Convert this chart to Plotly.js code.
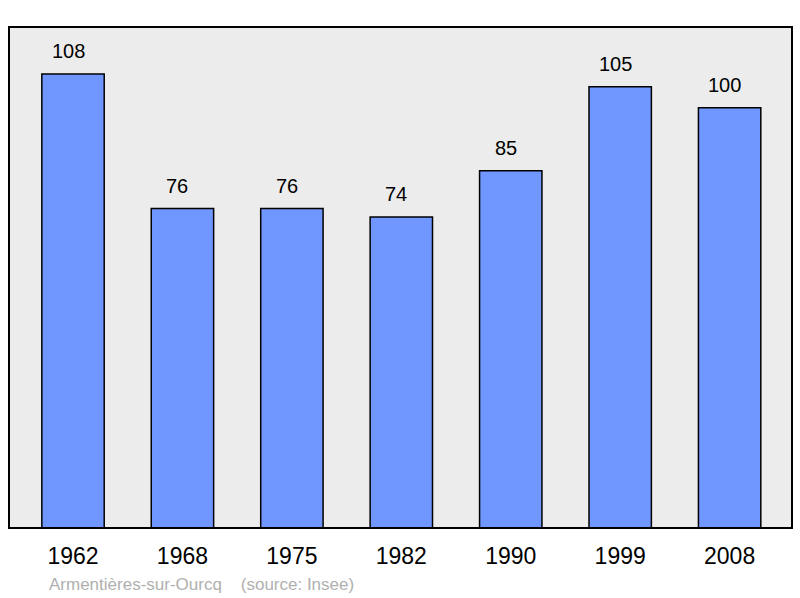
<!DOCTYPE html>
<html>
<head>
<meta charset="utf-8">
<script src="https://cdn.plot.ly/plotly-3.0.1.min.js"></script>
<style>
  body { margin: 0; background: #fff; }
  #chart { width: 800px; height: 598px; }
</style>
</head>
<body>
<div id="chart"></div>
<script>
// population by census year
const years = ['1962', '1968', '1975', '1982', '1990', '1999', '2008'];
const population = [108, 76, 76, 74, 85, 105, 100];

const fam = 'Liberation Sans, Arial, sans-serif';

const bars = {
  type: 'bar',
  x: years,
  y: population,
  width: 0.57,
  marker: {
    color: '#6f97ff',
    line: { color: '#000', width: 1.5 }
  },
  hoverinfo: 'x+y'
};

// numbers above each bar (x by category index), sitting a bit left of centre
const valueNotes = population.map((v, i) => ({
  xref: 'x', yref: 'y',
  x: i,
  y: v,
  text: String(v),
  showarrow: false,
  yanchor: 'bottom',
  xshift: -5,
  yshift: 10,
  font: { family: fam, size: 20, color: '#000' }
}));

valueNotes.push({
  xref: 'paper', yref: 'paper',
  x: 0.049, y: -0.09,
  xanchor: 'left', yanchor: 'top',
  text: 'Armentières-sur-Ourcq&nbsp;&nbsp;&nbsp;&nbsp;(source: Insee)',
  showarrow: false,
  font: { family: fam, size: 17, color: '#b0b0b0' }
});

const layout = {
  width: 800,
  height: 598,
  margin: { l: 9, r: 8, t: 27, b: 70 },
  paper_bgcolor: '#fff',
  plot_bgcolor: '#ececec',
  showlegend: false,
  xaxis: {
    type: 'category',
    range: [-0.585, 6.57],
    showgrid: false,
    zeroline: false,
    showline: false,
    ticks: '',
    ticklabelstandoff: 12,
    tickfont: { family: fam, size: 23, color: '#000' },
    fixedrange: true
  },
  yaxis: {
    range: [0, 119.2],
    showgrid: false,
    zeroline: false,
    showticklabels: false,
    ticks: '',
    fixedrange: true
  },
  annotations: valueNotes,
  shapes: [{
    type: 'rect',
    xref: 'paper', yref: 'paper',
    x0: 0, x1: 1, y0: 0, y1: 1,
    line: { color: '#000', width: 2 },
    fillcolor: 'rgba(0,0,0,0)'
  }]
};

Plotly.newPlot('chart', [bars], layout, { displayModeBar: false, staticPlot: true });
</script>
</body>
</html>
